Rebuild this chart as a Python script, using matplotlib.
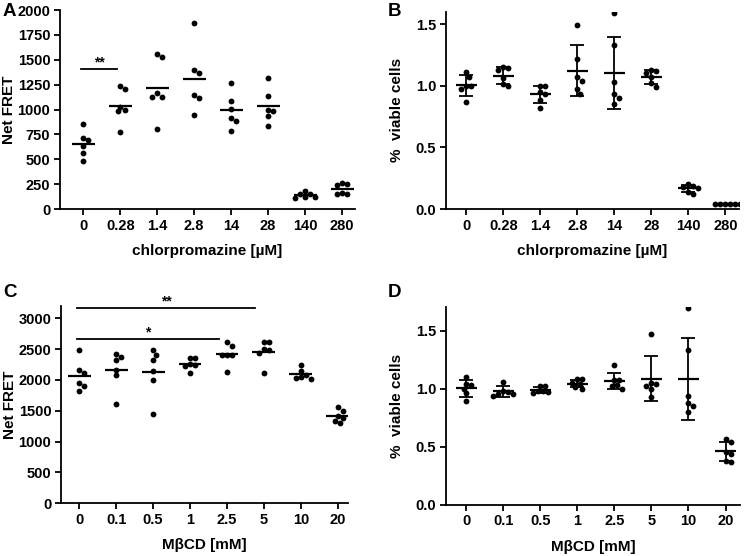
import numpy as np
import matplotlib
matplotlib.use("Agg")
import matplotlib.pyplot as plt

plt.rcParams["font.family"] = ["Liberation Sans", "DejaVu Sans"]
plt.rcParams["font.weight"] = "bold"
plt.rcParams["axes.labelweight"] = "bold"

# chlorpromazine series
cpz_labels = ["0", "0.28", "1.4", "2.8", "14", "28", "140", "280"]
cpz_fret = [
    [850, 690, 710, 630, 565, 480],
    [1210, 1240, 995, 985, 1030, 775],
    [1530, 1555, 1130, 1130, 1170, 800],
    [1870, 1370, 1400, 1145, 1120, 950],
    [1265, 1090, 1005, 915, 885, 785],
    [1320, 1140, 990, 1000, 930, 830],
    [155, 150, 120, 115, 125, 180],
    [250, 240, 265, 150, 150, 160],
]
cpz_viab = [
    [1.07, 1.11, 1.00, 0.97, 1.00, 0.87],
    [1.14, 1.13, 1.15, 1.06, 1.01, 1.00],
    [1.00, 1.00, 0.95, 0.93, 0.88, 0.82],
    [1.49, 1.22, 1.04, 1.07, 0.97, 0.93],
    [1.59, 1.33, 1.03, 0.93, 0.90, 0.85],
    [1.13, 1.12, 1.10, 1.07, 1.02, 0.99],
    [0.20, 0.19, 0.18, 0.17, 0.14, 0.12],
    [0.04, 0.04, 0.04, 0.04, 0.04, 0.04],
]

# methyl-beta-cyclodextrin series
mbcd_labels = ["0", "0.1", "0.5", "1", "2.5", "5", "10", "20"]
mbcd_fret = [
    [2480, 2165, 2110, 1950, 1905, 1820],
    [2425, 2380, 2330, 2170, 2075, 1615],
    [2490, 2410, 2330, 2145, 1995, 1455],
    [2350, 2355, 2265, 2250, 2230, 2120],
    [2620, 2560, 2410, 2400, 2400, 2130],
    [2610, 2610, 2500, 2440, 2495, 2115],
    [2240, 2140, 2080, 2050, 2030, 2020],
    [1560, 1490, 1420, 1380, 1340, 1300],
]
mbcd_viab = [
    [1.10, 1.03, 1.04, 1.00, 0.96, 0.89],
    [1.06, 0.98, 0.97, 0.95, 0.95, 0.94],
    [1.02, 1.02, 0.98, 0.98, 0.97, 0.96],
    [1.08, 1.08, 1.05, 1.04, 1.01, 1.00],
    [1.20, 1.07, 1.07, 1.03, 1.02, 1.00],
    [1.47, 1.05, 1.04, 1.02, 1.00, 0.93],
    [1.69, 1.33, 0.94, 0.88, 0.85, 0.80],
    [0.57, 0.54, 0.45, 0.44, 0.38, 0.37],
]


def swarm_offsets(ax, x, vals, d=5.0):
    # simple beeswarm in pixel space, returns x offsets in data units
    vals = np.asarray(vals, dtype=float)
    pts = ax.transData.transform(np.column_stack([np.full(len(vals), x), vals]))
    ppx = ax.transData.transform([[1, 0]])[0][0] - ax.transData.transform([[0, 0]])[0][0]
    placed = []
    offs = np.zeros(len(vals))
    for k in np.argsort(-vals):
        py = pts[k][1]
        for j in [0, 1, -1, 2, -2, 3, -3, 4, -4, 5, -5, 6, -6]:
            cx = j * d * 0.5
            if all((cx - ox) ** 2 + (py - oy) ** 2 >= d ** 2 for ox, oy in placed):
                break
        placed.append((cx, py))
        offs[k] = cx / ppx
    return offs


def draw_groups(ax, groups, sd=False):
    for i, vals in enumerate(groups):
        xs = i + swarm_offsets(ax, i, vals)
        ax.plot(xs, vals, "o", color="black", ms=4.2, mew=0, zorder=3)
        m = np.mean(vals)
        if sd:
            ax.hlines(m, i - 0.29, i + 0.29, color="black", lw=1.6, zorder=4)
            ax.errorbar(i, m, yerr=np.std(vals, ddof=1), fmt="none", ecolor="black",
                        elinewidth=1.3, capsize=4.7, capthick=1.3, zorder=4)
        else:
            ax.hlines(m, i - 0.31, i + 0.31, color="black", lw=1.6, zorder=4)


def style(ax, labels, xlim, ylim, yticks, xlabel, ylabel, ylab_x, yfmt=None):
    ax.set_xlim(*xlim)
    ax.set_ylim(*ylim)
    ax.set_xticks(range(len(labels)))
    ax.set_xticklabels(labels)
    ax.set_yticks(yticks)
    if yfmt:
        ax.set_yticklabels([yfmt.format(t) for t in yticks])
    for s in ["top", "right"]:
        ax.spines[s].set_visible(False)
    for s in ["left", "bottom"]:
        ax.spines[s].set_linewidth(1.3)
    ax.tick_params(direction="out", length=4, width=1.3, labelsize=10.5, pad=3)
    ax.set_xlabel(xlabel, fontsize=11, labelpad=8)
    ax.set_ylabel(ylabel, fontsize=11, va="center")
    ax.yaxis.set_label_coords(ylab_x, 0.5)


def sig_bar(ax, x0, x1, y, text):
    ax.plot([x0, x1], [y, y], color="black", lw=1.3, clip_on=False)
    ax.text((x0 + x1) / 2, y, text, ha="center", va="bottom", fontsize=10,
            fontweight="bold")


fig = plt.figure(figsize=(7.45, 5.56), dpi=100)

axA = fig.add_axes([0.0805, 0.624, 0.396, 0.358])
style(axA, cpz_labels, (-0.63, 7.35), (0, 2000), range(0, 2001, 250),
      "chlorpromazine [µM]", "Net FRET", -0.172)
draw_groups(axA, cpz_fret)
sig_bar(axA, -0.05, 0.9, 1405, "**")

axB = fig.add_axes([0.5987, 0.624, 0.393, 0.355])
style(axB, cpz_labels, (-0.55, 7.36), (0, 1.6), [0, 0.5, 1.0, 1.5],
      "chlorpromazine [µM]", "%  viable cells", -0.167, "{:.1f}")
draw_groups(axB, cpz_viab, sd=True)

axC = fig.add_axes([0.0819, 0.0953, 0.385, 0.354])
style(axC, mbcd_labels, (-0.49, 7.27), (0, 3200), range(0, 3001, 500),
      "MβCD [mM]", "Net FRET", -0.178)
draw_groups(axC, mbcd_fret)
sig_bar(axC, -0.05, 4.75, 3167, "**")
sig_bar(axC, -0.05, 3.78, 2666, "*")

axD = fig.add_axes([0.5987, 0.0923, 0.395, 0.355])
style(axD, mbcd_labels, (-0.55, 7.4), (0, 1.7), [0, 0.5, 1.0, 1.5],
      "MβCD [mM]", "%  viable cells", -0.167, "{:.1f}")
draw_groups(axD, mbcd_viab, sd=True)

for lab, x, y in [("A", 0.004, 0.995), ("B", 0.521, 0.995),
                  ("C", 0.004, 0.49), ("D", 0.521, 0.49)]:
    fig.text(x, y, lab, fontsize=13.5, fontweight="bold", ha="left", va="top")

fig.savefig("out.png", dpi=100)
